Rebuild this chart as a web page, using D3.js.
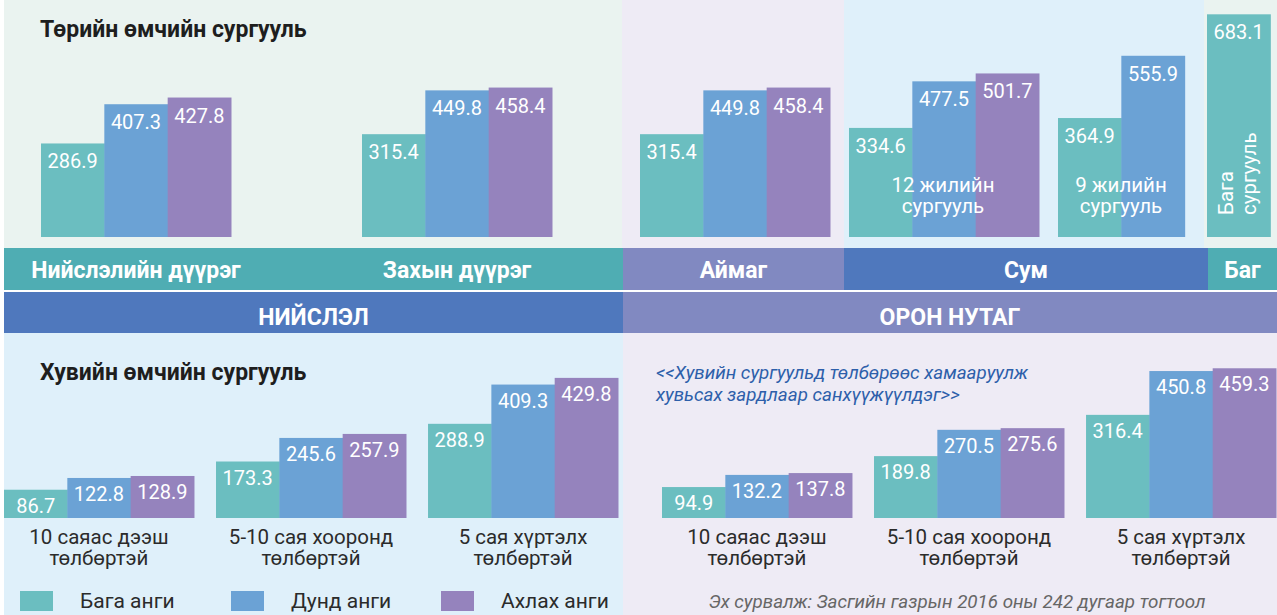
<!DOCTYPE html>
<html>
<head>
<meta charset="utf-8">
<script src="https://cdn.jsdelivr.net/npm/d3@7"></script>
<style>
  html, body { margin: 0; padding: 0; background: #ffffff; }
  svg { display: block; font-family: Roboto, "Noto Sans", sans-serif; }
</style>
</head>
<body>
<svg id="chart" width="1277" height="615"></svg>
<script>
// ---- Data: cost per student (thousand ₮) ----
const seriesNames = ["Бага анги", "Дунд анги", "Ахлах анги"];

// State-owned schools
const publicCategories = ["Нийслэлийн дүүрэг", "Захын дүүрэг", "Аймаг", "12 жилийн сургууль", "9 жилийн сургууль", "Бага сургууль"];
const publicPrimary = [286.9, 315.4, 315.4, 334.6, 364.9, 683.1];
const publicMiddle  = [407.3, 449.8, 449.8, 477.5, 555.9, null];
const publicUpper   = [427.8, 458.4, 458.4, 501.7, null, null];

// Private schools by tuition level
const privateCategories = ["10 саяас дээш төлбөртэй", "5-10 сая хооронд төлбөртэй", "5 сая хүртэлх төлбөртэй"];
const capitalPrimary = [86.7, 173.3, 288.9];
const capitalMiddle  = [122.8, 245.6, 409.3];
const capitalUpper   = [128.9, 257.9, 429.8];
const localPrimary   = [94.9, 189.8, 316.4];
const localMiddle    = [132.2, 270.5, 450.8];
const localUpper     = [137.8, 275.6, 459.3];

// ---- Styling ----
const barColors = ["#6bbec0", "#6ba2d5", "#9583bd"];
const white = "#ffffff";
const svg = d3.select("#chart");

const color = d3.scaleOrdinal().domain(seriesNames).range(barColors);

// ---- Background panels ----
const panels = [
  { x: 4,    y: 0,   w: 618, h: 248, fill: "#eaf3f0" },
  { x: 622,  y: 0,   w: 222, h: 248, fill: "#eeebf5" },
  { x: 844,  y: 0,   w: 360, h: 248, fill: "#dff0fa" },
  { x: 1204, y: 0,   w: 73,  h: 248, fill: "#eaf3f0" },
  { x: 4,    y: 333, w: 619, h: 282, fill: "#dff0fa" },
  { x: 623,  y: 333, w: 654, h: 282, fill: "#eeebf5" }
];
svg.selectAll("rect.panel").data(panels).join("rect")
  .attr("class", "panel")
  .attr("x", d => d.x).attr("y", d => d.y)
  .attr("width", d => d.w).attr("height", d => d.h)
  .attr("fill", d => d.fill);

// ---- Category bands ----
const bands = [
  { x: 4,    y: 248, w: 619, h: 42, fill: "#4fadb3", label: null, base: 30 },
  { x: 623,  y: 248, w: 221, h: 42, fill: "#8189c1", label: "Аймаг", base: 30 },
  { x: 844,  y: 248, w: 364, h: 42, fill: "#4f78bd", label: "Сум", base: 30 },
  { x: 1208, y: 248, w: 69,  h: 42, fill: "#4fadb3", label: "Баг", base: 30 },
  { x: 4,    y: 292, w: 619, h: 41, fill: "#4f78bd", label: "НИЙСЛЭЛ", base: 33 },
  { x: 623,  y: 292, w: 654, h: 41, fill: "#8189c1", label: "ОРОН НУТАГ", base: 33 }
];
svg.selectAll("rect.band").data(bands).join("rect")
  .attr("class", "band")
  .attr("x", d => d.x).attr("y", d => d.y)
  .attr("width", d => d.w).attr("height", d => d.h)
  .attr("fill", d => d.fill);
svg.selectAll("text.band-label").data(bands.filter(d => d.label)).join("text")
  .attr("class", "band-label")
  .attr("x", d => d.x + d.w / 2)
  .attr("y", d => d.y + d.base)
  .attr("text-anchor", "middle")
  .attr("fill", white)
  .attr("font-weight", 700)
  .attr("font-size", 23)
  .text(d => d.label);

// ---- Titles ----
svg.append("text").attr("x", 40).attr("y", 37)
  .attr("font-size", 23).attr("font-weight", 700).attr("fill", "#1e1e1e")
  .text("Төрийн өмчийн сургууль");
svg.append("text").attr("x", 40).attr("y", 380)
  .attr("font-size", 23).attr("font-weight", 700).attr("fill", "#1e1e1e")
  .text("Хувийн өмчийн сургууль");

// ---- Value scale shared by all bars ----
const pxPerUnit = 0.326;
const yTop = d3.scaleLinear().domain([0, 700]).range([237, 237 - 700 * pxPerUnit]);
const yBottom = d3.scaleLinear().domain([0, 700]).range([518, 518 - 700 * pxPerUnit]);

// ---- Top panel: state-owned schools ----
const publicGroupX = d3.scaleOrdinal()
  .domain(publicCategories)
  .range([41, 362, 640, 849, 1058, 1207]);
const inner = d3.scaleBand().domain(seriesNames).range([0, 190]).paddingInner(0);

const publicBars = [];
publicCategories.forEach((c, i) => {
  [publicPrimary[i], publicMiddle[i], publicUpper[i]].forEach((v, j) => {
    if (v != null) publicBars.push({ cat: c, series: seriesNames[j], value: v });
  });
});

const gTop = svg.append("g");
gTop.selectAll("rect").data(publicBars).join("rect")
  .attr("x", d => publicGroupX(d.cat) + inner(d.series))
  .attr("y", d => yTop(d.value))
  .attr("width", inner.bandwidth() + 0.5)
  .attr("height", d => yTop(0) - yTop(d.value))
  .attr("fill", d => color(d.series));
gTop.selectAll("text").data(publicBars).join("text")
  .attr("x", d => publicGroupX(d.cat) + inner(d.series) + inner.bandwidth() / 2)
  .attr("y", d => yTop(d.value) + 25)
  .attr("text-anchor", "middle")
  .attr("font-size", 20)
  .attr("fill", white)
  .text(d => d.value.toFixed(1));

// Group names shown in the band under the capital groups
svg.selectAll("text.group-name").data(publicCategories.slice(0, 2)).join("text")
  .attr("class", "group-name")
  .attr("x", d => publicGroupX(d) + 95)
  .attr("y", 278)
  .attr("text-anchor", "middle")
  .attr("fill", white)
  .attr("font-weight", 700)
  .attr("font-size", 23)
  .text(d => d);

// School-type names written over the soum bars
const soumNames = publicCategories.slice(3, 5);
const soumLabels = svg.selectAll("text.soum").data(soumNames).join("text")
  .attr("class", "soum")
  .attr("text-anchor", "middle")
  .attr("font-size", 20.5)
  .attr("fill", white);
soumLabels.each(function (d, i) {
  const parts = d.split(" ");
  const cx = publicGroupX(d) + (i === 0 ? 94 : 63);
  const t = d3.select(this);
  t.append("tspan").attr("x", cx).attr("y", 192).text(parts.slice(0, 2).join(" "));
  t.append("tspan").attr("x", cx).attr("y", 213).text(parts[2]);
});

// Vertical label on the bagh primary school bar
const bagName = publicCategories[5].split(" ");
const bagX = publicGroupX(publicCategories[5]);
const bagText = svg.append("text")
  .attr("transform", `translate(${bagX + 26},215) rotate(-90)`)
  .attr("font-size", 20.5)
  .attr("fill", white);
bagText.append("tspan").attr("x", 0).attr("y", 0).text(bagName[0]);
bagText.append("tspan").attr("x", 0).attr("y", 23).text(bagName[1]);

// ---- Bottom panels: private schools ----
function privatePanel(x0, x1, primary, middle, upper) {
  const gx = d3.scaleBand().domain(privateCategories).range([x0, x1]).paddingInner(0.104).paddingOuter(0);
  const ix = d3.scaleBand().domain(seriesNames).range([0, gx.bandwidth()]);
  const rows = [];
  privateCategories.forEach((c, i) => {
    [primary[i], middle[i], upper[i]].forEach((v, j) => rows.push({ cat: c, series: seriesNames[j], value: v }));
  });
  const g = svg.append("g");
  g.selectAll("rect").data(rows).join("rect")
    .attr("x", d => gx(d.cat) + ix(d.series))
    .attr("y", d => yBottom(d.value))
    .attr("width", ix.bandwidth() + 0.5)
    .attr("height", d => yBottom(0) - yBottom(d.value))
    .attr("fill", d => color(d.series));
  g.selectAll("text.val").data(rows).join("text")
    .attr("class", "val")
    .attr("x", d => gx(d.cat) + ix(d.series) + ix.bandwidth() / 2)
    .attr("y", d => yBottom(d.value) + 23)
    .attr("text-anchor", "middle")
    .attr("font-size", 20)
    .attr("fill", white)
    .text(d => d.value.toFixed(1));
  const cl = g.selectAll("text.cat").data(privateCategories).join("text")
    .attr("class", "cat")
    .attr("text-anchor", "middle")
    .attr("font-size", 20.5)
    .attr("fill", "#2b2b2b");
  cl.each(function (d) {
    const words = d.split(" ");
    const cx = gx(d) + gx.bandwidth() / 2;
    const t = d3.select(this);
    t.append("tspan").attr("x", cx).attr("y", 544).text(words.slice(0, -1).join(" "));
    t.append("tspan").attr("x", cx).attr("y", 565).text(words[words.length - 1]);
  });
}
privatePanel(4, 618, capitalPrimary, capitalMiddle, capitalUpper);
privatePanel(662, 1276, localPrimary, localMiddle, localUpper);

// ---- Note on private school financing ----
const note = svg.append("text")
  .attr("font-size", 18.8).attr("font-style", "italic").attr("fill", "#2d5faa");
note.append("tspan").attr("x", 656).attr("y", 379).text("<<Хувийн сургуульд төлбөрөөс хамааруулж");
note.append("tspan").attr("x", 656).attr("y", 401).text("хувьсах зардлаар санхүүжүүлдэг>>");

// ---- Legend ----
const legendX = [20, 231, 441];
const legend = svg.selectAll("g.legend").data(seriesNames).join("g")
  .attr("class", "legend")
  .attr("transform", (d, i) => `translate(${legendX[i]},591)`);
legend.append("rect").attr("width", 33).attr("height", 20).attr("fill", d => color(d));
legend.append("text").attr("x", 60).attr("y", 17)
  .attr("font-size", 21).attr("fill", "#2b2b2b").text(d => d);

// ---- Source ----
svg.append("text").attr("x", 957).attr("y", 608)
  .attr("text-anchor", "middle")
  .attr("font-size", 18.8).attr("font-style", "italic").attr("fill", "#666666")
  .text("Эх сурвалж: Засгийн газрын 2016 оны 242 дугаар тогтоол");
</script>
</body>
</html>
